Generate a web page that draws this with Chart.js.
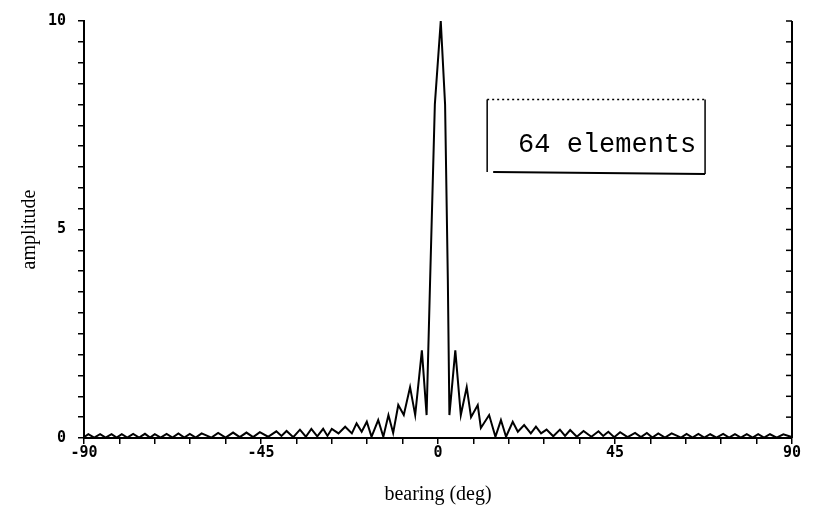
<!DOCTYPE html>
<html>
<head>
<meta charset="utf-8">
<script src="https://cdn.jsdelivr.net/npm/chart.js@4"></script>
<style>
  html, body { margin: 0; padding: 0; background: #fff; }
  #wrap { width: 827px; height: 515px; }
</style>
</head>
<body>
<div id="wrap"><canvas id="beamChart"></canvas></div>
<script>
// bearing (deg) and amplitude
const bearing = [
  -90, -88.9, -87.4, -85.9, -84.5, -83, -81.7, -80.4, -79, -77.5, -76, -74.5, -73.2, -72, -70.5, -69,
  -67.5, -66, -64.5, -63.1, -61.6, -60.1, -57.6, -55.9, -54, -52.1, -50.4, -48.7, -47, -45.3, -43.2,
  -41.1, -39.8, -38.5, -36.8, -35.1, -33.6, -32.2, -30.7, -29.2, -28.1, -27, -25.3, -23.6, -21.9,
  -20.7, -19.4, -18.1, -16.9, -15.2, -13.9, -12.6, -11.4, -10.1, -8.7, -7.1, -5.8, -4.1, -2.9,
  -2.0, -0.8, 0.7, 1.8, 2.5, 2.9, 4.4, 5.8, 7.3, 8.4, 10.1, 10.9, 13.0, 14.6, 16.0, 17.3, 19.0,
  20.3, 21.9, 23.6, 24.9, 26.2, 27.6, 29.3, 31, 32.3, 33.6, 35.3, 37, 39, 40.8, 42, 43.3, 44.8,
  46.3, 48.2, 50.1, 51.6, 53.1, 54.5, 56, 57.7, 59.4, 61.8, 63.2, 64.7, 66.2, 67.7, 69.2, 70.8,
  72.5, 74, 75.5, 77, 78.5, 80, 81.4, 82.9, 84.4, 86.1, 87.8, 90
];
const amplitude = [
  0.02, 0.09, 0.01, 0.09, 0.01, 0.09, 0.01, 0.09, 0.01, 0.10, 0.01, 0.10, 0.01, 0.09, 0.01, 0.10,
  0.01, 0.11, 0.01, 0.10, 0.01, 0.11, 0.01, 0.12, 0.01, 0.13, 0.02, 0.13, 0.02, 0.14, 0.03,
  0.16, 0.05, 0.17, 0.02, 0.20, 0.03, 0.22, 0.04, 0.22, 0.05, 0.22, 0.11, 0.27, 0.11,
  0.35, 0.15, 0.39, 0.03, 0.43, 0.03, 0.55, 0.12, 0.79, 0.55, 1.22, 0.55, 2.1, 0.55,
  3.8, 8.0, 10.0, 8.0, 3.8, 0.55, 2.1, 0.55, 1.22, 0.5, 0.79, 0.24, 0.55, 0.03, 0.43, 0.03, 0.39,
  0.15, 0.31, 0.11, 0.27, 0.11, 0.20, 0.04, 0.20, 0.05, 0.19, 0.03, 0.17, 0.03, 0.16, 0.05, 0.15, 0.02,
  0.14, 0.02, 0.12, 0.02, 0.12, 0.01, 0.11, 0.01, 0.11, 0.01, 0.10, 0.01, 0.10, 0.01, 0.09, 0.01,
  0.10, 0.01, 0.09, 0.01, 0.09, 0.01, 0.09, 0.01, 0.09, 0.01, 0.09, 0.02
];
const xTickLabels = [-90, -45, 0, 45, 90];
const yTickLabels = [0, 5, 10];
const boxLabel = '64 elements';

const tickFont = { family: 'DejaVu Sans Mono', size: 15, weight: 'bold' };
const titleFont = { family: 'Liberation Serif', size: 20 };

// inward ticks on the right-hand frame line + the label box
const framePlugin = {
  id: 'frame',
  afterDraw(chart) {
    const c = chart.ctx;
    const xs = chart.scales.x;
    const ys = chart.scales.y;
    const area = chart.chartArea;
    c.save();
    c.strokeStyle = '#000';
    c.lineWidth = 2;
    c.beginPath();
    c.moveTo(area.right, ys.getPixelForValue(10));
    c.lineTo(area.right, ys.getPixelForValue(0));
    c.stroke();
    c.lineWidth = 1.5;
    ys.ticks.forEach(t => {
      const py = ys.getPixelForValue(t.value);
      c.beginPath();
      c.moveTo(area.right, py);
      c.lineTo(area.right - 6, py);
      c.stroke();
    });

    // label box: dotted top, solid sides and bottom
    const x0 = xs.getPixelForValue(12.5), x1 = xs.getPixelForValue(67.9);
    const y0 = ys.getPixelForValue(8.12), y1 = ys.getPixelForValue(6.38);
    c.lineWidth = 1.5;
    c.setLineDash([2, 3]);
    c.beginPath();
    c.moveTo(x0, y0);
    c.lineTo(x1, y0);
    c.stroke();
    c.setLineDash([]);
    c.beginPath();
    c.moveTo(x0, y0);
    c.lineTo(x0, y1);
    c.moveTo(x1, y0);
    c.lineTo(x1, y1 + 2);
    c.stroke();
    c.lineWidth = 2;
    c.beginPath();
    c.moveTo(x0 + 6, y1);
    c.lineTo(x1, y1 + 2);
    c.stroke();
    c.fillStyle = '#000';
    c.font = '27px "Liberation Mono"';
    c.textAlign = 'center';
    c.textBaseline = 'middle';
    c.fillText(boxLabel, xs.getPixelForValue(43.0), ys.getPixelForValue(7.02));
    c.restore();
  }
};

document.addEventListener('DOMContentLoaded', function() {
  const ctx = document.getElementById('beamChart').getContext('2d');
  new Chart(ctx, {
    type: 'scatter',
    data: {
      datasets: [{
        data: bearing.map((b, i) => ({ x: b, y: amplitude[i] })),
        showLine: true,
        borderColor: '#000',
        borderWidth: 2,
        pointRadius: 0,
        tension: 0
      }]
    },
    options: {
      responsive: true,
      maintainAspectRatio: false,
      animation: false,
      layout: { padding: { top: 16, left: 0, right: 0, bottom: 0 } },
      plugins: {
        legend: { display: false },
        tooltip: { enabled: false }
      },
      scales: {
        x: {
          type: 'linear',
          min: -90,
          max: 90,
          afterFit: s => { s.height = 77; },
          border: { display: true, color: '#000', width: 2 },
          grid: { drawOnChartArea: false, drawTicks: true, tickLength: 6, color: '#000', lineWidth: 1.5 },
          ticks: {
            stepSize: 9,
            autoSkip: false,
            maxRotation: 0,
            padding: 0,
            color: '#000',
            font: tickFont,
            callback: v => xTickLabels.includes(v) ? String(v) : ''
          },
          title: {
            display: true,
            text: 'bearing (deg)',
            color: '#000',
            font: titleFont,
            padding: { top: 0, bottom: 8 }
          }
        },
        y: {
          min: 0,
          max: 10,
          afterFit: s => { s.width = 84; },
          border: { display: true, color: '#000', width: 2 },
          grid: { drawOnChartArea: false, drawTicks: true, tickLength: 6, color: '#000', lineWidth: 1.5 },
          ticks: {
            stepSize: 0.5,
            autoSkip: false,
            padding: 12,
            color: '#000',
            font: tickFont,
            callback: v => yTickLabels.includes(v) ? String(v) : ''
          },
          title: {
            display: true,
            text: 'amplitude',
            color: '#000',
            font: titleFont,
            padding: { top: 18, bottom: 0 }
          }
        },
        y2: {
          position: 'right',
          min: 0,
          max: 10,
          afterFit: s => { s.width = 35; },
          border: { display: false },
          grid: { display: false },
          ticks: { display: false }
        }
      }
    },
    plugins: [framePlugin]
  });
});
</script>
</body>
</html>
